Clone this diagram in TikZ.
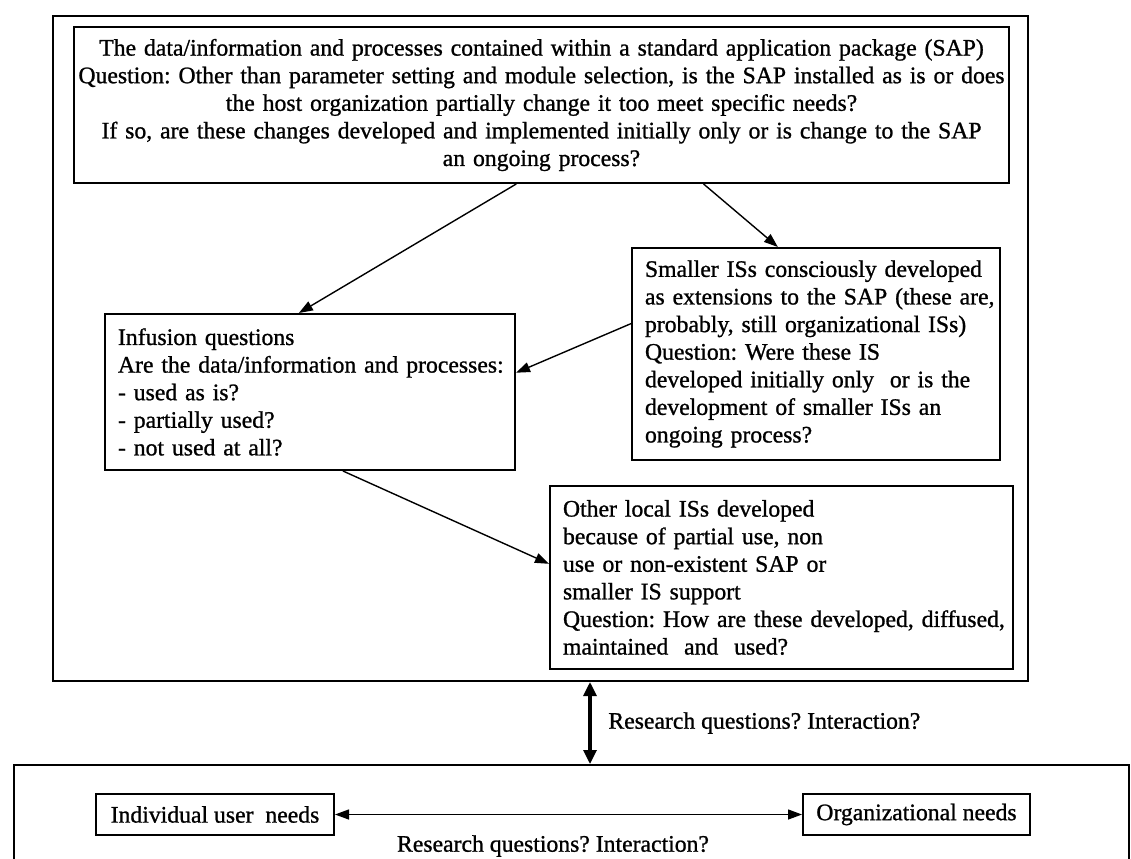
\documentclass[tikz,border=0pt]{standalone}
\usepackage{fontspec}
\setmainfont{Liberation Serif}[UprightFeatures={FakeBold=1}]
\usetikzlibrary{arrows.meta,calc}
\frenchspacing
\begin{document}
\begin{tikzpicture}[x=0.5pt,y=-0.5pt,
  txt/.style={font=\fontsize{11.85}{13.8}\selectfont},
  box/.style={txt, draw, line width=1pt, anchor=north west, inner xsep=6.5pt, inner ysep=0pt},
  lbox/.style={box, align=left},
  frame/.style={draw, line width=1pt, anchor=north west, inner sep=0pt},
  arr/.style={line width=0.7pt, -{Triangle[length=7pt,width=5pt]}},
  dblarr/.style={line width=0.7pt, {Triangle[length=7pt,width=5pt]}-{Triangle[length=7pt,width=5pt]}},
  thickarr/.style={line width=1.6pt, {Triangle[length=7pt,width=6.5pt]}-{Triangle[length=7pt,width=6.5pt]}}
]
\useasboundingbox (0,0) rectangle (1131,858);

% outer frames
\node[frame, minimum width=487.5pt, minimum height=332.5pt] (outer) at (52,15) {};
\node[frame, minimum width=557.5pt, minimum height=100pt] (lower) at (13,764) {};

% boxes
\node[box, align=center, text width=454.5pt, minimum height=78pt] (sap) at (73,26)
 {\makebox[454.5pt][c]{The data/information and processes contained within a standard application package (SAP)}\\
  \makebox[454.5pt][c]{Question: Other than parameter setting and module selection, is the SAP installed as is or does}\\
  \makebox[454.5pt][c]{the host organization partially change it too meet specific needs?}\\
  \makebox[454.5pt][c]{If so, are these changes developed and implemented initially only or is change to the SAP}\\
  \makebox[454.5pt][c]{an ongoing process?}};

\node[lbox, text width=192pt, minimum height=78pt] (inf) at (104,313)
 {\mbox{Infusion questions}\\
  \mbox{Are the data/information and processes:}\\
  \mbox{- used as is?}\\
  \mbox{- partially used?}\\
  \mbox{- not used at all?}};

\node[lbox, text width=171pt, minimum height=106pt] (small) at (631,247)
 {\mbox{Smaller ISs consciously developed}\\
  \mbox{as extensions to the SAP (these are,}\\
  \mbox{probably, still organizational ISs)}\\
  \mbox{Question: Were these IS}\\
  \mbox{developed initially only\ \ or is the}\\
  \mbox{development of smaller ISs an}\\
  \mbox{ongoing process?}};

\node[lbox, text width=218.5pt, minimum height=91.5pt] (local) at (549,485)
 {\mbox{Other local ISs developed}\\
  \mbox{because of partial use, non}\\
  \mbox{use or non-existent SAP or}\\
  \mbox{smaller IS support}\\
  \mbox{Question: How are these developed, diffused,}\\
  \mbox{maintained\ \ and\ \ used?}};

\node[box, align=center, minimum width=119pt, minimum height=20.5pt] (indiv) at (95,793)
 {Individual user\ \ needs};
\node[box, align=center, minimum width=113.5pt, minimum height=20.5pt] (org) at (802,793)
 {Organizational needs};

% labels
\node[txt, anchor=west, inner sep=0pt] (lab1) at (608,723) {Research questions? Interaction?};
\node[txt, anchor=center, inner sep=0pt] (lab2) at (553,846) {Research questions? Interaction?};

% connectors
\draw[arr] ($(sap.south west)!0.473!(sap.south east)$) -- ($(inf.north west)!0.473!(inf.north east)$);
\draw[arr] ($(sap.south west)!0.673!(sap.south east)$) -- ($(small.north west)!0.397!(small.north east)$);
\draw[arr] ($(small.north west)!0.358!(small.south west)$) -- ($(inf.north east)!0.378!(inf.south east)$);
\draw[arr] ($(inf.south west)!0.58!(inf.south east)$) -- ($(local.north west)!0.426!(local.south west)$);

\coordinate (va) at (590,0);
\draw[thickarr] (va |- outer.south) -- (va |- lower.north);
\draw[dblarr] (indiv.east) -- (org.west);
\end{tikzpicture}
\end{document}
